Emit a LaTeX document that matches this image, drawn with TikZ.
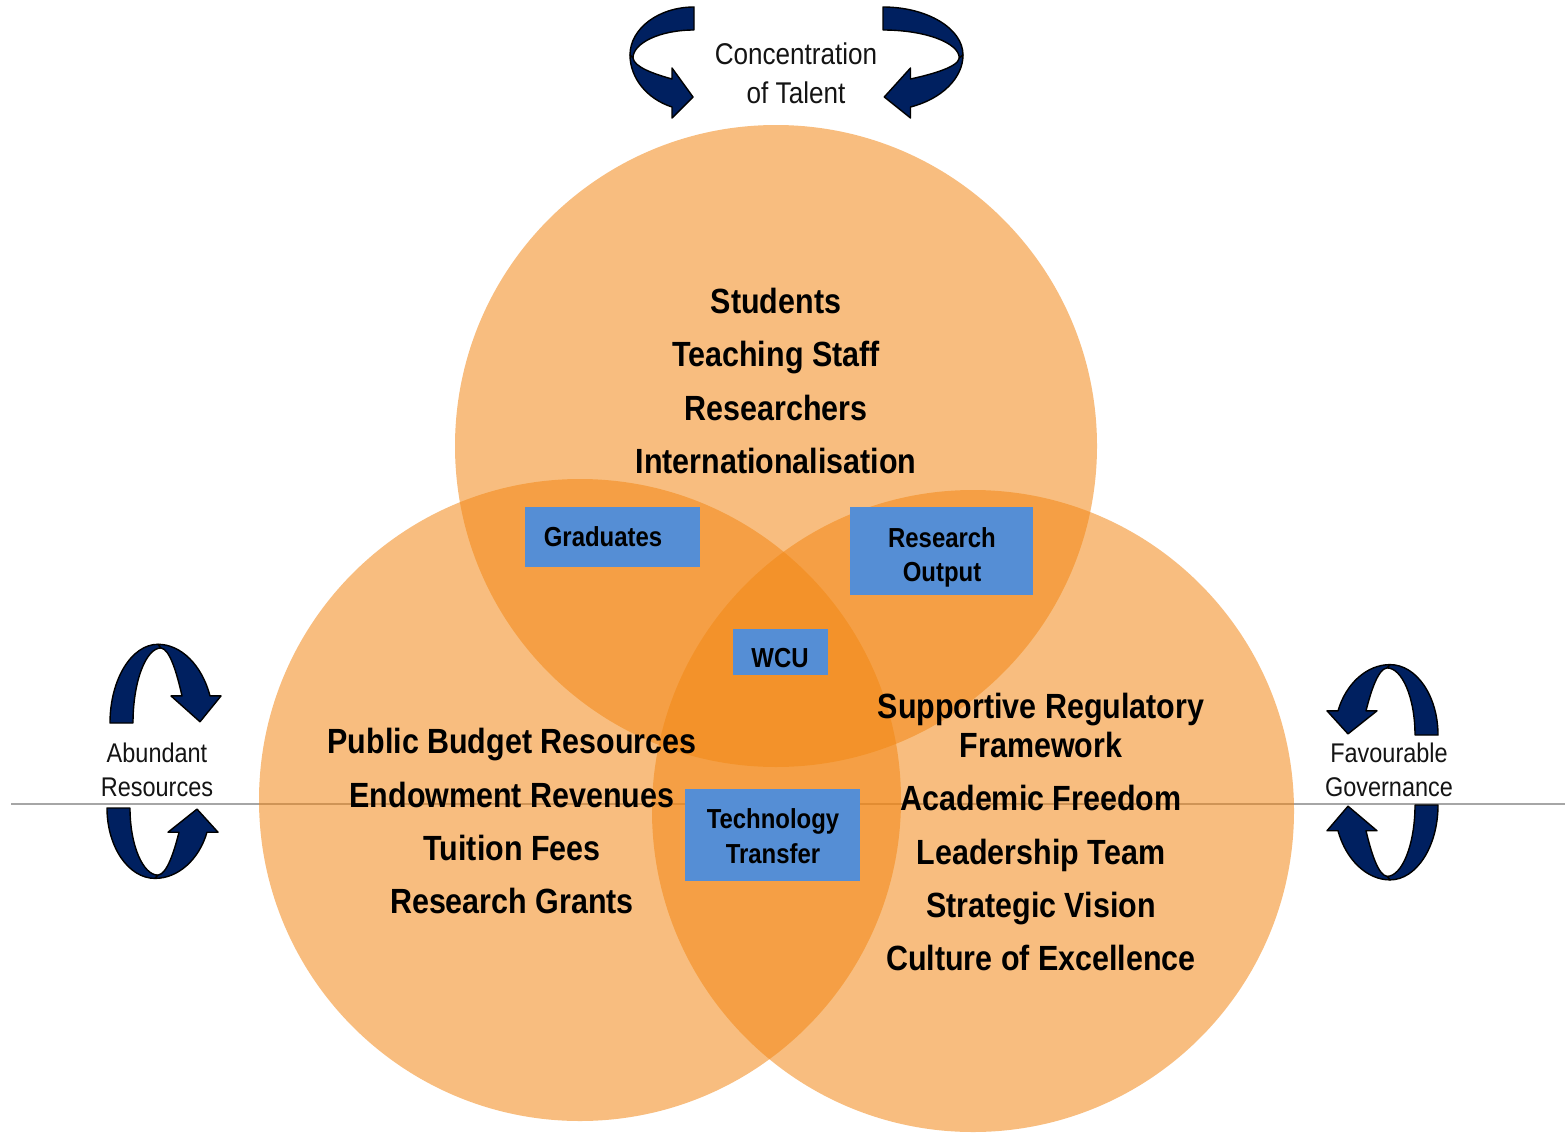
\documentclass[tikz,border=0pt]{standalone}
\usepackage{fontspec}
\setmainfont{Liberation Sans}[FakeStretch=0.87]
\definecolor{vennorange}{RGB}{242,135,21}
\definecolor{navy}{RGB}{0,32,96}
\definecolor{boxblue}{RGB}{85,142,213}
\definecolor{rulegray}{RGB}{166,166,166}
\definecolor{labelink}{RGB}{20,20,20}

% curved ribbon arrow: tail band behind, head band in front
\newcommand\ribbonshape{%
  \path[ribbon] (0,-48) .. controls (-35.3,-48) and (-64,-26.5) .. (-64,0)
     -- (-61,3) .. controls (-61,-12) and (-34,-25) .. (0,-25) -- cycle;
  \path[ribbon] (-64,0) .. controls (-64,23) and (-47,44) .. (-22,52)
     -- (-22,63) -- (-1,42) -- (-22,13) -- (-22,24)
     .. controls (-40,19) and (-60,12) .. (-61,3) -- cycle;
}

\begin{document}
\begin{tikzpicture}[x=1pt,y=-1pt,
  venn/.style={circle, minimum size=642pt, inner sep=0pt, fill=vennorange, fill opacity=0.55, draw=none},
  bigtxt/.style={font=\fontsize{35}{40}\selectfont\bfseries, anchor=base, inner sep=0pt},
  boxtxt/.style={font=\fontsize{27.5}{30}\selectfont\bfseries, anchor=base, inner sep=0pt},
  sidetxt/.style={font=\fontsize{27}{30}\selectfont, anchor=base, inner sep=0pt, text=labelink},
  toptxt/.style={sidetxt, font=\fontsize{30}{33}\selectfont},
  bluebox/.style={rectangle, fill=boxblue, draw=none, inner sep=0pt},
  ribbon/.style={fill=navy, draw=black, line width=1.4pt, line join=round},
  ruleline/.style={draw=rulegray, line width=2pt},
]
\useasboundingbox (0,0) rectangle (1565,1132);

% horizontal rule behind the circles
\coordinate (ruleL) at (11,804);
\coordinate (ruleR) at (1565,804);
\draw[ruleline] (ruleL) -- (ruleR);

% the three circles
\node[venn] (talent) at (776,446) {};
\node[venn] (resources) at (580,800) {};
\node[venn] (governance) at (973,811) {};

% talent circle
\node[bigtxt] (t1) at (776,313) {Students};
\node[bigtxt] (t2) at (776,366) {Teaching Staff};
\node[bigtxt] (t3) at (776,420) {Researchers};
\node[bigtxt] (t4) at (776,473) {Internationalisation};

% resources circle
\node[bigtxt] (r1) at (512,753) {Public Budget Resources};
\node[bigtxt] (r2) at (512,807) {Endowment Revenues};
\node[bigtxt] (r3) at (512,860) {Tuition Fees};
\node[bigtxt] (r4) at (512,913) {Research Grants};

% governance circle
\node[bigtxt] (g1) at (1041,718) {Supportive Regulatory};
\node[bigtxt] (g2) at (1041,757) {Framework};
\node[bigtxt] (g3) at (1041,810) {Academic Freedom};
\node[bigtxt] (g4) at (1041,864) {Leadership Team};
\node[bigtxt] (g5) at (1041,917) {Strategic Vision};
\node[bigtxt] (g6) at (1041,970) {Culture of Excellence};

% intersection boxes
\node[bluebox, minimum width=175pt, minimum height=60pt] (grad) at (612.5,537) {};
\node[boxtxt] (gradtxt) at (603,546) {Graduates};
\node[bluebox, minimum width=183pt, minimum height=88pt] (resout) at (941.5,551) {};
\node[boxtxt] (resout1) at (942,547) {Research};
\node[boxtxt] (resout2) at (942,581) {Output};
\node[bluebox, minimum width=95pt, minimum height=46pt] (wcu) at (780.5,652) {};
\node[boxtxt] (wcutxt) at (780,667) {WCU};
\node[bluebox, minimum width=175pt, minimum height=92pt] (tech) at (772.5,835) {};
\node[boxtxt] (tech1) at (773,828) {Technology};
\node[boxtxt] (tech2) at (773,863) {Transfer};

% outside labels
\node[toptxt] (cot1) at (796,65) {Concentration};
\node[toptxt] (cot2) at (796,103) {of Talent};
\node[sidetxt] (ab1) at (157,762) {Abundant};
\node[sidetxt] (ab2) at (157,796) {Resources};
\node[sidetxt] (fg1) at (1389,762) {Favourable};
\node[sidetxt] (fg2) at (1389,796) {Governance};

% curved arrows
\begin{scope}[shift={(694,55)}]
  \ribbonshape
\end{scope}
\begin{scope}[shift={(883,55)}, x={(-1.25pt,0pt)}, y={(0pt,-1pt)}]
  \ribbonshape
\end{scope}
\begin{scope}[shift={(158,723)}, x={(0pt,-1.23pt)}, y={(1pt,0pt)}]
  \ribbonshape
\end{scope}
\begin{scope}[shift={(155,808)}, x={(0pt,1.1pt)}, y={(1pt,0pt)}]
  \ribbonshape
\end{scope}
\begin{scope}[shift={(1390,735)}, x={(0pt,-1.1pt)}, y={(-1pt,0pt)}]
  \ribbonshape
\end{scope}
\begin{scope}[shift={(1390,805)}, x={(0pt,1.17pt)}, y={(-1pt,0pt)}]
  \ribbonshape
\end{scope}
\end{tikzpicture}
\end{document}
